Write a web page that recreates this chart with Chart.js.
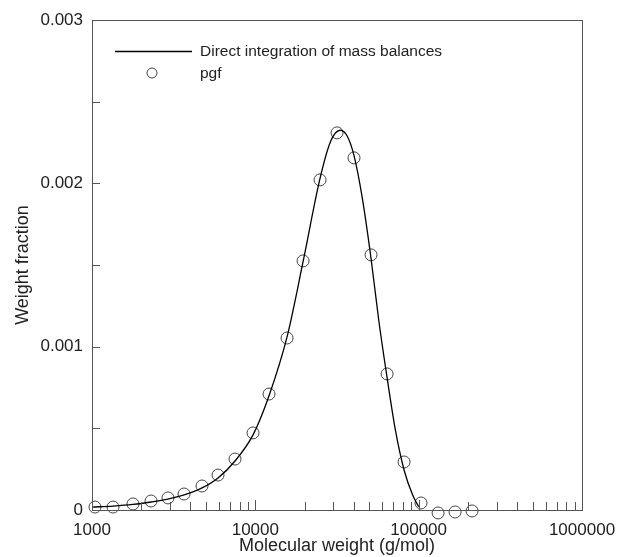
<!DOCTYPE html>
<html>
<head>
<meta charset="utf-8">
<script src="https://cdn.jsdelivr.net/npm/chart.js@4"></script>
<style>
  html, body { margin: 0; padding: 0; background: #fff; }
  #wrap { width: 618px; height: 557px; }
</style>
</head>
<body>
<div id="wrap"><canvas id="mwdChart"></canvas></div>
<script>
// molecular weight (g/mol) and weight fraction
const curveMw = [1000, 1345, 1782, 2298, 2920, 3660, 4716, 5910, 7510, 9680, 12130, 15640, 19600, 24900, 29000, 33000, 36500, 40200, 45000, 51100, 57000, 64070, 72000, 81400, 92000, 100000];
const curveWf = [0.000018, 0.000024, 0.000034, 0.000049, 0.000067, 0.000092, 0.000135, 0.000196, 0.0003, 0.00046, 0.0007, 0.00106, 0.00152, 0.00203, 0.00226, 0.002325, 0.00229, 0.00217, 0.00192, 0.00154, 0.00116, 0.00081, 0.00049, 0.000245, 0.00009, 0.00002];

const pgfMw = [1043, 1345, 1782, 2298, 2920, 3660, 4716, 5910, 7510, 9680, 12130, 15640, 19600, 24900, 31640, 40200, 51100, 64070, 81400, 103400, 131500, 167100, 212300];
const pgfWf = [0.000018, 0.000018, 0.000037, 0.000055, 0.000074, 0.000098, 0.000147, 0.000214, 0.000312, 0.000472, 0.00071, 0.001053, 0.001525, 0.002021, 0.002309, 0.002156, 0.001562, 0.000833, 0.000294, 0.000043, -0.000018, -0.000012, -0.000006];

const xTickValues = [1000, 10000, 100000, 1000000];
const yTickValues = [0, 0.001, 0.002, 0.003];
const yMinorStep = 0.0005;

const axisColor = "#555";
const textColor = "#222";
const fontFamily = "'Liberation Sans', Arial, sans-serif";

// inward tick marks, frame and in-plot legend
const framePlugin = {
  id: "frame",
  afterDatasetsDraw(chart) {
    const { ctx, chartArea: a, scales } = chart;
    const xs = scales.x;
    const ys = scales.y;
    ctx.save();
    ctx.strokeStyle = axisColor;
    ctx.lineWidth = 1;
    ctx.beginPath();
    for (let d = 1000; d < 1000000; d *= 10) {
      for (let m = 1; m <= 10; m++) {
        const px = Math.round(xs.getPixelForValue(d * m)) + 0.5;
        const len = m === 1 || m === 10 ? 10 : 8;
        ctx.moveTo(px, a.bottom);
        ctx.lineTo(px, a.bottom - len);
      }
    }
    for (let v = 0; v <= 0.003 + 1e-9; v += yMinorStep) {
      const py = Math.round(ys.getPixelForValue(v)) + 0.5;
      ctx.moveTo(a.left, py);
      ctx.lineTo(a.left + 8, py);
    }
    ctx.stroke();
    ctx.strokeRect(Math.round(a.left) + 0.5, Math.round(a.top) + 0.5, Math.round(a.right - a.left), Math.round(a.bottom - a.top));
    ctx.restore();
  },
  afterDraw(chart) {
    const { ctx } = chart;
    const [lineDs, pgfDs] = chart.data.datasets;
    ctx.save();
    ctx.font = "15.5px " + fontFamily;
    ctx.fillStyle = textColor;
    ctx.textBaseline = "middle";
    ctx.strokeStyle = lineDs.borderColor;
    ctx.lineWidth = lineDs.borderWidth;
    ctx.beginPath();
    ctx.moveTo(115, 51.5);
    ctx.lineTo(192, 51.5);
    ctx.stroke();
    ctx.fillText(lineDs.label, 200, 52);
    ctx.strokeStyle = pgfDs.borderColor;
    ctx.lineWidth = pgfDs.borderWidth;
    ctx.beginPath();
    ctx.arc(152, 73, 5, 0, Math.PI * 2);
    ctx.stroke();
    ctx.fillText(pgfDs.label, 200, 74);
    ctx.restore();
  },
};

new Chart(document.getElementById("mwdChart"), {
  type: "line",
  data: {
    datasets: [
      {
        label: "Direct integration of mass balances",
        data: curveMw.map((x, i) => ({ x, y: curveWf[i] })),
        borderColor: "#000",
        borderWidth: 1.3,
        pointRadius: 0,
        fill: false,
        cubicInterpolationMode: "monotone",
      },
      {
        type: "scatter",
        label: "pgf",
        data: pgfMw.map((x, i) => ({ x, y: pgfWf[i] })),
        showLine: false,
        pointStyle: "circle",
        pointRadius: 6,
        borderColor: "#444",
        backgroundColor: "rgba(0,0,0,0)",
        borderWidth: 1,
        clip: false,
      },
    ],
  },
  options: {
    responsive: true,
    maintainAspectRatio: false,
    animation: false,
    layout: { padding: { left: 0, top: 20, right: 36, bottom: 0 } },
    plugins: {
      legend: { display: false },
      tooltip: { enabled: false },
    },
    scales: {
      x: {
        type: "logarithmic",
        min: 1000,
        max: 1000000,
        afterBuildTicks: (scale) => {
          scale.ticks = xTickValues.map((value) => ({ value }));
        },
        afterFit: (scale) => {
          scale.height = 47;
          scale.paddingLeft = 0;
          scale.paddingRight = 0;
        },
        grid: { display: false, drawTicks: false },
        border: { display: false },
        ticks: {
          autoSkip: false,
          maxRotation: 0,
          padding: 10,
          color: textColor,
          font: { family: fontFamily, size: 17 },
          callback: (v) => String(v),
        },
        title: {
          display: true,
          text: "Molecular weight (g/mol)",
          color: textColor,
          font: { family: fontFamily, size: 18 },
          padding: { top: 0, bottom: 0 },
        },
      },
      y: {
        min: 0,
        max: 0.003,
        afterBuildTicks: (scale) => {
          scale.ticks = yTickValues.map((value) => ({ value }));
        },
        afterFit: (scale) => {
          scale.width = 92;
          scale.paddingTop = 0;
          scale.paddingBottom = 0;
        },
        grid: { display: false, drawTicks: false },
        border: { display: false },
        ticks: {
          padding: 9,
          color: textColor,
          font: { family: fontFamily, size: 17 },
          callback: (v) => (v === 0 ? "0" : v.toFixed(3)),
        },
        title: {
          display: true,
          text: "Weight fraction",
          color: textColor,
          font: { family: fontFamily, size: 18 },
          padding: { top: 12, bottom: 0 },
        },
      },
    },
  },
  plugins: [framePlugin],
});
</script>
</body>
</html>
